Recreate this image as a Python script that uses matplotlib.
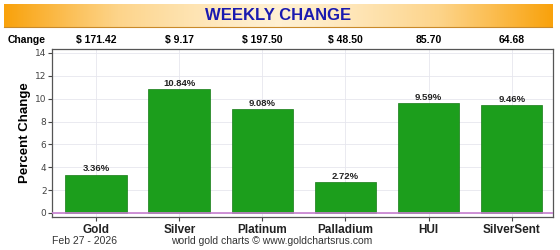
import numpy as np
import matplotlib.pyplot as plt
from matplotlib.colors import LinearSegmentedColormap

# Weekly change data
metals = ["Gold", "Silver", "Platinum", "Palladium", "HUI", "SilverSent"]
pct_change = [3.36, 10.84, 9.08, 2.72, 9.59, 9.46]
change_labels = ["$ 171.42", "$ 9.17", "$ 197.50", "$ 48.50", "85.70", "64.68"]

fig = plt.figure(figsize=(5.6, 2.5), dpi=100)

# Orange banner with the title
ban = fig.add_axes([0.007, 0.892, 0.979, 0.092])
grad = np.abs(np.linspace(-1, 1, 256))[None, :] ** 1.3
cmap = LinearSegmentedColormap.from_list("ban", ["#fff0d2", "#fdd48a", "#f9a20c"])
ban.imshow(grad, aspect="auto", cmap=cmap, extent=[0, 1, 0, 1])
ban.set_xlim(0, 1)
ban.set_ylim(0, 1)
ban.set_xticks([])
ban.set_yticks([])
for s in ban.spines.values():
    s.set_visible(False)
ban.spines["bottom"].set_visible(True)
ban.spines["bottom"].set_color("#c98a2a")
ban.text(0.5, 0.5, "WEEKLY CHANGE", ha="center", va="center",
         fontsize=12, fontweight="bold", color="#1a1ab0", family="Liberation Sans")

ax = fig.add_axes([0.093, 0.132, 0.895, 0.672])
x = np.arange(len(metals))
ax.bar(x, pct_change, width=0.74, color="#1c9e1c", edgecolor="#157a15", linewidth=0.5, zorder=3)
for xi, v in zip(x, pct_change):
    ax.text(xi, v + 0.1, f"{v:.2f}%", ha="center", va="bottom", fontsize=6.8,
            fontweight="bold", color="#222222", family="Liberation Sans", zorder=4)

ax.axhline(0, color="#c77fd0", linewidth=1.2, zorder=4)
ax.set_xlim(-0.53, 5.5)
ax.set_ylim(-0.35, 14.35)
ax.set_yticks(range(0, 15, 2))
ax.set_xticks(x)
ax.set_xticklabels(metals, fontsize=8.5, fontweight="bold", family="Liberation Sans")
ax.tick_params(axis="y", labelsize=6.5, length=3, pad=1, colors="#444444")
ax.tick_params(axis="x", length=3, pad=2, colors="#444444")
for lbl in ax.get_xticklabels():
    lbl.set_color("#222222")
ax.set_ylabel("Percent Change", fontsize=9.5, fontweight="bold", family="Liberation Sans", labelpad=3)
ax.grid(True, color="#e6e6ee", linewidth=0.6, zorder=0)
for s in ax.spines.values():
    s.set_color("#555555")
    s.set_linewidth(0.9)

# Change row above the plot
fig.text(0.014, 0.84, "Change", fontsize=7.5, fontweight="bold", va="center", family="Liberation Sans")
for xi, lab in zip(x, change_labels):
    xf = ax.transData.transform((xi, 0))[0] / fig.bbox.width
    fig.text(xf, 0.84, lab, fontsize=7.5, fontweight="bold", ha="center", va="center",
             family="Liberation Sans")

# Footer
fig.text(0.093, 0.035, "Feb 27 - 2026", fontsize=7.5, va="center", color="#333333", family="Liberation Sans")
fig.text(0.485, 0.035, "world gold charts \u00a9 www.goldchartsrus.com", fontsize=7.5, ha="center",
         va="center", color="#333333", family="Liberation Sans")

fig.savefig("out.png", dpi=100)
